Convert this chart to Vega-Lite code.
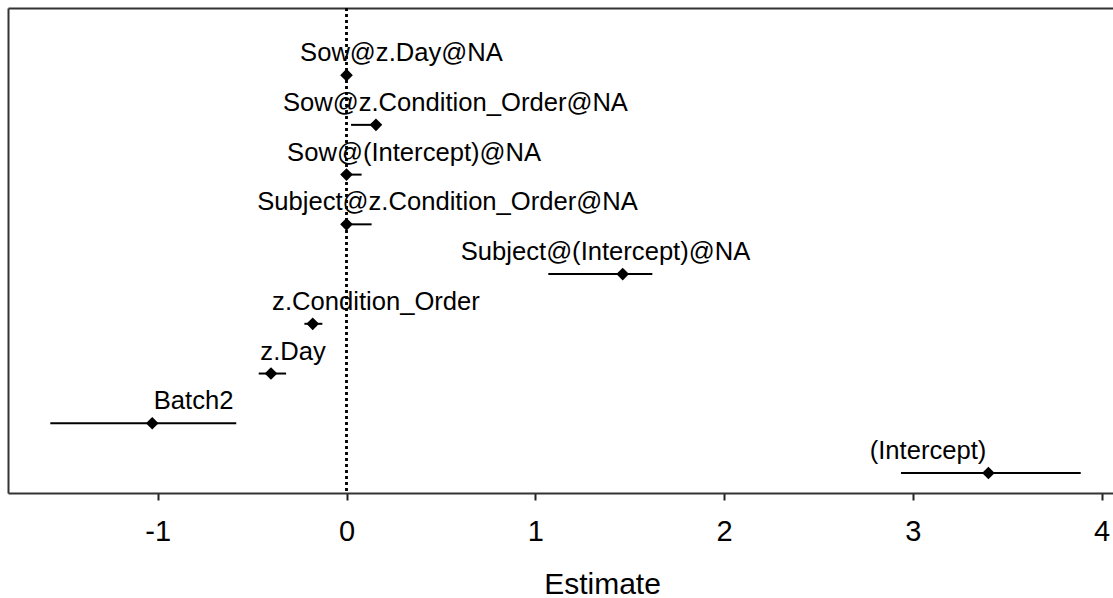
{
  "$schema": "https://vega.github.io/schema/vega-lite/v6.json",
  "width": 1105,
  "height": 485,
  "autosize": "none",
  "padding": {"left": 8, "top": 8, "right": 0, "bottom": 105},
  "background": "white",
  "config": {
    "view": {"stroke": null},
    "font": "Liberation Sans",
    "axis": {"grid": false}
  },
  "data": {
    "values": [
      {"term": "Sow@z.Day@NA", "row": 9, "estimate": 0.0, "lower": -0.004, "upper": 0.006, "label_x": 0.291},
      {"term": "Sow@z.Condition_Order@NA", "row": 8, "estimate": 0.156, "lower": 0.024, "upper": 0.162, "label_x": 0.577},
      {"term": "Sow@(Intercept)@NA", "row": 7, "estimate": 0.0, "lower": -0.002, "upper": 0.08, "label_x": 0.358},
      {"term": "Subject@z.Condition_Order@NA", "row": 6, "estimate": 0.0, "lower": -0.002, "upper": 0.133, "label_x": 0.535},
      {"term": "Subject@(Intercept)@NA", "row": 5, "estimate": 1.463, "lower": 1.069, "upper": 1.62, "label_x": 1.372},
      {"term": "z.Condition_Order", "row": 4, "estimate": -0.179, "lower": -0.223, "upper": -0.128, "label_x": 0.156},
      {"term": "z.Day", "row": 3, "estimate": -0.40, "lower": -0.465, "upper": -0.32, "label_x": -0.283},
      {"term": "Batch2", "row": 2, "estimate": -1.029, "lower": -1.569, "upper": -0.584, "label_x": -0.81},
      {"term": "(Intercept)", "row": 1, "estimate": 3.40, "lower": 2.937, "upper": 3.889, "label_x": 3.08}
    ]
  },
  "resolve": {"axis": {"x": "independent", "y": "independent"}},
  "layer": [
    {
      "mark": {"type": "rule", "color": "black", "strokeWidth": 1.5, "strokeDash": [3, 3]},
      "encoding": {
        "x": {
          "datum": 0,
          "type": "quantitative",
          "scale": {"domain": [-1.793, 4.06], "nice": false, "zero": false},
          "axis": {
            "orient": "bottom",
            "values": [-1, 0, 1, 2, 3, 4],
            "labelExpr": "'' + datum.value",
            "title": "Estimate",
            "titleFont": "Liberation Sans",
            "titleFontSize": 30,
            "titleFontWeight": "normal",
            "titleColor": "black",
            "titleBaseline": "alphabetic",
            "titleAlign": "center",
            "titleAnchor": null,
            "titleX": 594,
            "titleY": 100,
            "labelFont": "Liberation Sans",
            "labelFontSize": 29,
            "labelColor": "black",
            "labelBaseline": "alphabetic",
            "labelPadding": 40,
            "labelFlush": false,
            "labelOverlap": false,
            "tickSize": 7,
            "tickWidth": 2,
            "tickColor": "#222",
            "domainColor": "#333",
            "domainWidth": 2
          }
        }
      }
    },
    {
      "mark": {"type": "rule", "color": "black", "strokeWidth": 2},
      "encoding": {
        "x": {"field": "lower", "type": "quantitative", "axis": null},
        "x2": {"field": "upper"},
        "y": {
          "field": "row",
          "type": "quantitative",
          "scale": {"domain": [0.598, 10.35], "nice": false, "zero": false},
          "axis": {
            "orient": "left",
            "title": null,
            "labels": false,
            "ticks": false,
            "domain": true,
            "domainColor": "#333",
            "domainWidth": 2
          }
        }
      }
    },
    {
      "mark": {"type": "point", "shape": "diamond", "filled": true, "color": "black", "size": 160, "opacity": 1},
      "encoding": {
        "x": {"field": "estimate", "type": "quantitative", "axis": null},
        "y": {"field": "row", "type": "quantitative", "axis": null}
      }
    },
    {
      "mark": {"type": "text", "align": "center", "baseline": "alphabetic", "dy": -14, "fontSize": 25.6, "font": "Liberation Sans", "color": "black"},
      "encoding": {
        "x": {
          "field": "label_x",
          "type": "quantitative",
          "axis": {
            "orient": "top",
            "title": null,
            "labels": false,
            "ticks": false,
            "domain": true,
            "domainColor": "#333",
            "domainWidth": 2
          }
        },
        "y": {"field": "row", "type": "quantitative", "axis": null},
        "text": {"field": "term"}
      }
    }
  ]
}
